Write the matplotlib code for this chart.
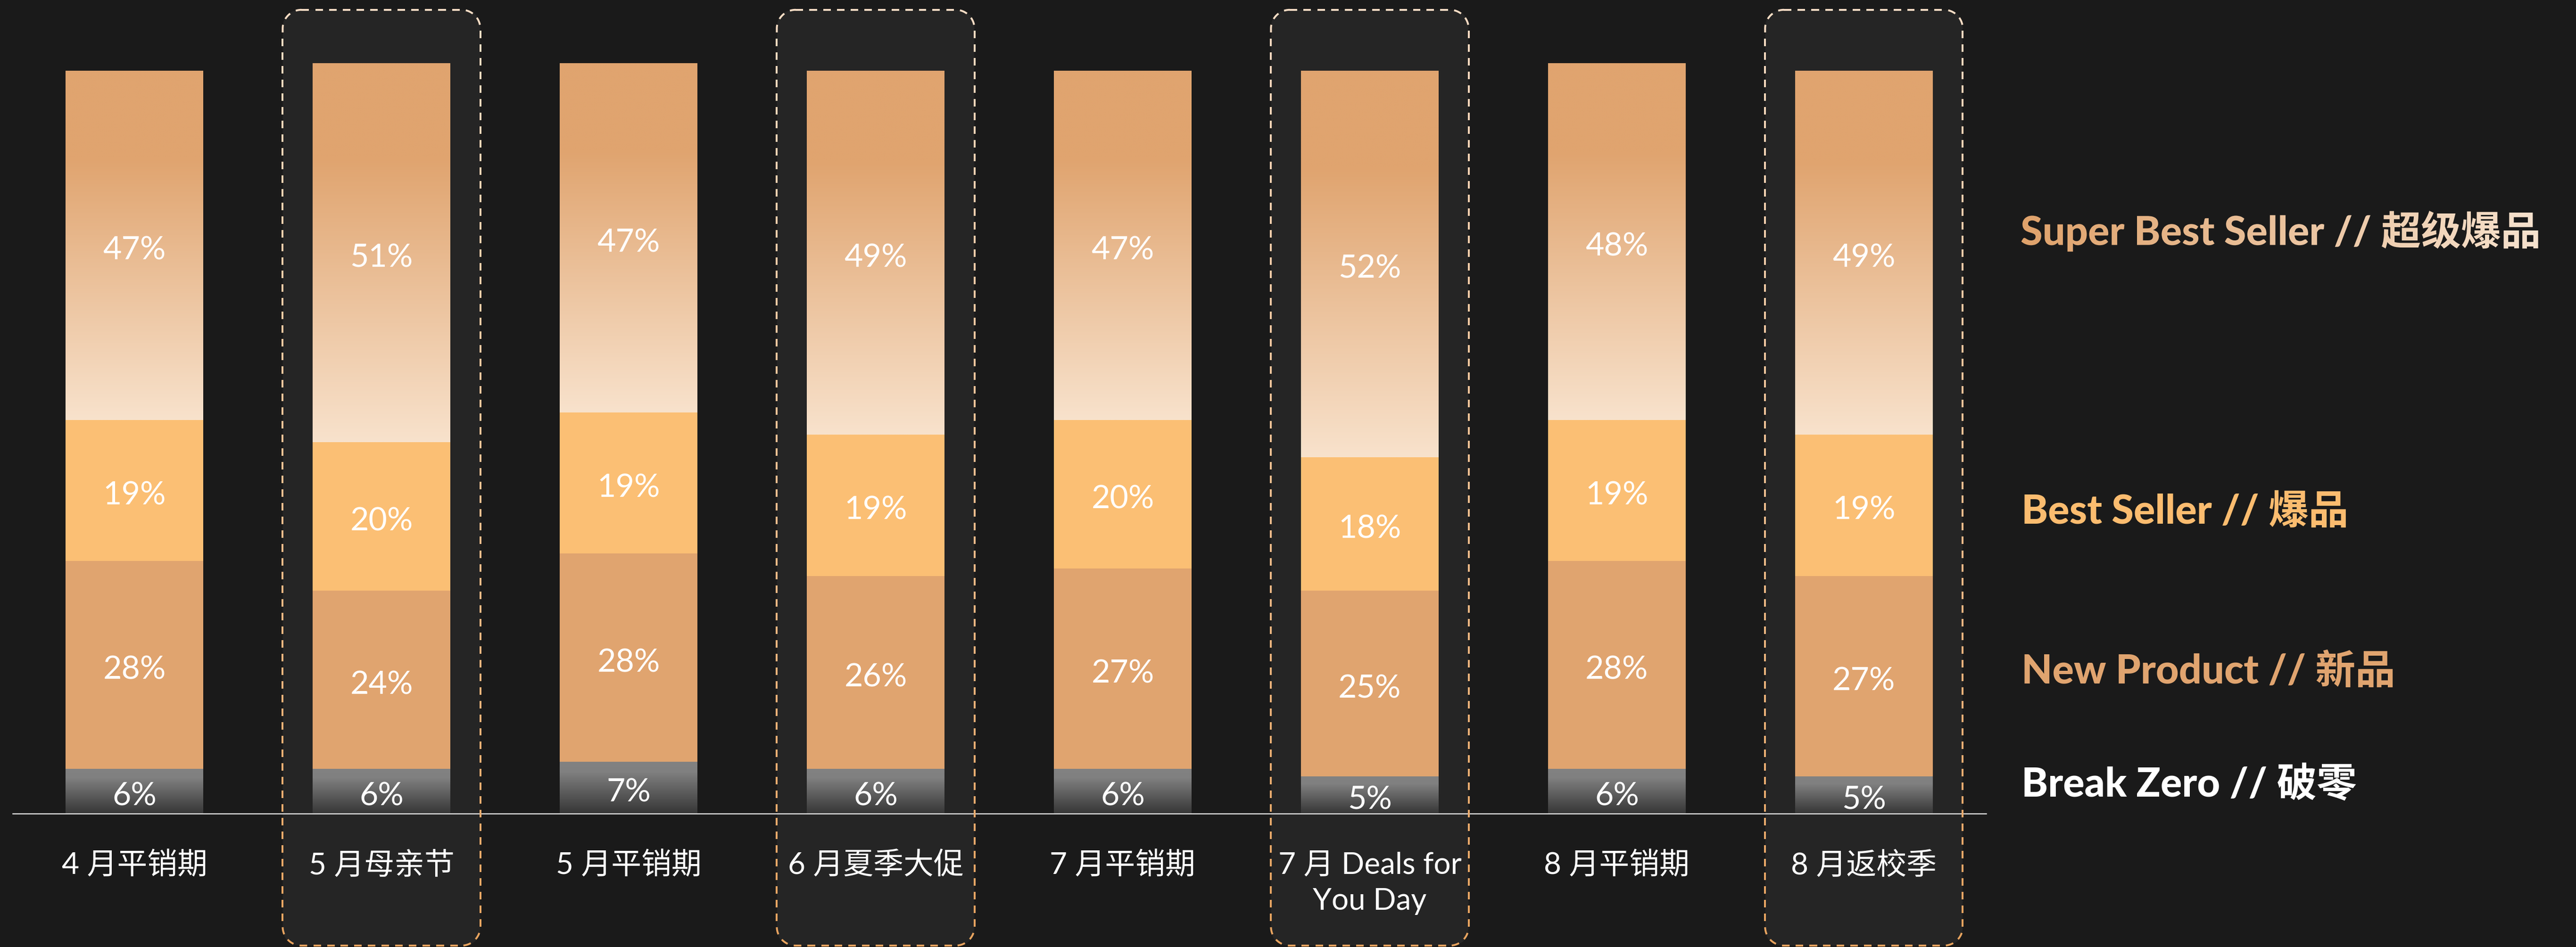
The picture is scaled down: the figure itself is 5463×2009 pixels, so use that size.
import numpy as np
import matplotlib
matplotlib.use('Agg')
import matplotlib.pyplot as plt
from matplotlib.colors import to_rgb
from matplotlib.collections import LineCollection
from matplotlib.patches import FancyBboxPatch, PathPatch
from matplotlib.textpath import TextPath
from matplotlib.font_manager import FontProperties
from matplotlib.transforms import Affine2D

# data (percent share per period)
categories = ['4 月平销期', '5 月母亲节', '5 月平销期', '6 月夏季大促',
              '7 月平销期', '7 月 Deals for\nYou Day', '8 月平销期', '8 月返校季']
break_zero = [6, 6, 7, 6, 6, 5, 6, 5]
new_product = [28, 24, 28, 26, 27, 25, 28, 27]
best_seller = [19, 20, 19, 19, 20, 18, 19, 19]
super_best = [47, 51, 47, 49, 47, 52, 48, 49]
highlight = [1, 3, 5, 7]

legend_labels = ['Super Best Seller // 超级爆品', 'Best Seller // 爆品',
                 'New Product // 新品', 'Break Zero // 破零']
legend_y = [78.4, 40.6, 19.1, 3.9]
legend_x = 7.637

BG = '#1a1a1a'
BOX = '#252525'
C_NEW = '#e0a46f'
C_BEST = '#fbbf74'
DASH_TOP = '#f7ddc5'
DASH_BOT = '#e8a35e'
fonts = ['Lato', 'Noto Sans CJK SC']
plt.rcParams['font.family'] = fonts


def ramp(stops, n=256):
    t = np.linspace(0, 1, n)
    pos = [s[0] for s in stops]
    cols = np.array([to_rgb(s[1]) for s in stops])
    return np.stack([np.interp(t, pos, cols[:, k]) for k in range(3)], axis=1)


super_grad = ramp([(0, '#e0a46f'), (0.25, '#e0a46f'), (1, '#f8e2cc')])
zero_grad = ramp([(0, '#828282'), (0.2, '#808080'), (1, '#363636')])

fig = plt.figure(figsize=(54.63, 20.09), dpi=100)
fig.patch.set_facecolor(BG)
ax = fig.add_axes([0, 0, 1, 1])
ax.set_facecolor(BG)
ax.axis('off')
xlim = (-0.544, 9.882)
ylim = (-17.96, 109.52)
ax.set_xlim(xlim)
ax.set_ylim(ylim)
ax.autoscale(False)

x = np.arange(len(categories))
bw = 0.557

# highlight boxes
box_hw, box_top, box_bot = 0.40, 108.2, -17.77
rx, ry = 0.0763, 2.54
for i in highlight:
    ax.add_patch(FancyBboxPatch((i - box_hw, box_bot), 2 * box_hw, box_top - box_bot,
                                boxstyle=f'round,pad=0,rounding_size={rx}',
                                mutation_aspect=ry / rx, fc=BOX, ec='none', zorder=0))


def rounded_outline(L, B, R, T, r):
    pieces = []
    def line(p0, p1):
        n = max(int(np.hypot(p1[0] - p0[0], p1[1] - p0[1])), 2)
        return np.column_stack([np.linspace(p0[0], p1[0], n), np.linspace(p0[1], p1[1], n)])
    def arc(cx, cy, a0, a1):
        n = max(int(abs(a1 - a0) * r), 2)
        a = np.linspace(a0, a1, n)
        return np.column_stack([cx + r * np.cos(a), cy + r * np.sin(a)])
    pieces.append(line((L + r, T), (R - r, T)))
    pieces.append(arc(R - r, T - r, np.pi / 2, 0))
    pieces.append(line((R, T - r), (R, B + r)))
    pieces.append(arc(R - r, B + r, 0, -np.pi / 2))
    pieces.append(line((R - r, B), (L + r, B)))
    pieces.append(arc(L + r, B + r, -np.pi / 2, -np.pi))
    pieces.append(line((L, B + r), (L, T - r)))
    pieces.append(arc(L + r, T - r, np.pi, np.pi / 2))
    return np.vstack(pieces)


inv = ax.transData.inverted()
dash_on, dash_off = 17.0, 12.0
c_top, c_bot = np.array(to_rgb(DASH_TOP)), np.array(to_rgb(DASH_BOT))
segs, cols = [], []
for i in highlight:
    (L, B) = ax.transData.transform((i - box_hw, box_bot))
    (R, T) = ax.transData.transform((i + box_hw, box_top))
    r = rx * (R - L) / (2 * box_hw)
    pts = rounded_outline(L, B, R, T, r)
    s = np.concatenate([[0], np.cumsum(np.hypot(*np.diff(pts, axis=0).T))])
    start = 0.0
    while start < s[-1]:
        m = (s >= start) & (s <= start + dash_on)
        if m.sum() >= 2:
            p = pts[m]
            t = (T - p[:, 1].mean()) / (T - B)
            segs.append(inv.transform(p))
            cols.append(c_top + (c_bot - c_top) * np.clip(t, 0, 1))
        start += dash_on + dash_off
ax.add_collection(LineCollection(segs, colors=cols, linewidths=2.9,
                                 capstyle='butt', zorder=3), autolim=False)

# baseline
ax.axhline(0, xmin=0.005, xmax=0.771, color='#dcdcdc', lw=1.8, zorder=2.5)

# stacked bars
bottom = np.zeros(len(x))
layers = [(break_zero, '#6a6a6a', zero_grad),
          (new_product, C_NEW, None),
          (best_seller, C_BEST, None),
          (super_best, '#eac39c', super_grad)]
for vals, color, grad in layers:
    vals = np.array(vals)
    bars = ax.bar(x, vals, bw, bottom=bottom, color=color, linewidth=0, zorder=2)
    for xi, b, v, rect in zip(x, bottom, vals, bars):
        if grad is not None:
            im = ax.imshow(grad[:, None, :], extent=(xi - bw / 2, xi + bw / 2, b, b + v),
                           aspect='auto', origin='upper', interpolation='bilinear', zorder=2.1)
            im.set_clip_path(rect)
        ax.text(xi, b + v / 2 - 0.7, f'{v}%', ha='center', va='center',
                color='white', fontsize=49, zorder=4)
    bottom = bottom + vals

# category labels
for xi, cat in zip(x, categories):
    ax.text(xi, -5.1, cat, ha='center', va='top', color='white',
            fontsize=46, linespacing=1.4, zorder=4)

# legend labels
legend_colors = [None, '#fbbc6f', '#e0a46f', '#ffffff']
for lab, ly, lc in zip(legend_labels[1:], legend_y[1:], legend_colors[1:]):
    ax.text(legend_x, ly, lab, ha='left', va='center', color=lc,
            fontsize=61, fontweight='black', zorder=4)

# gradient-coloured first legend label
fp = FontProperties(family=fonts, weight='black', size=61)
size_px = 61 * fig.dpi / 72
tp = TextPath((0, 0), legend_labels[0], size=size_px, prop=fp)
ext = tp.get_extents()
px, py = ax.transData.transform((legend_x, legend_y[0]))
tr = Affine2D().translate(px - ext.x0, py - (ext.y0 + ext.y1) / 2)
clip = PathPatch(tp, transform=tr, facecolor='none', edgecolor='none')
d0 = inv.transform((px - 2, py - ext.height / 2 - 4))
d1 = inv.transform((px + ext.width + 2, py + ext.height / 2 + 4))
h_grad = ramp([(0, '#dfa26b'), (1, '#f6e2ce')])
im = ax.imshow(h_grad[None, :, :], extent=(d0[0], d1[0], d0[1], d1[1]),
               aspect='auto', interpolation='bilinear', zorder=4)
im.set_clip_path(clip)

ax.set_xlim(xlim)
ax.set_ylim(ylim)
fig.savefig('out.png', dpi=100, facecolor=BG)
